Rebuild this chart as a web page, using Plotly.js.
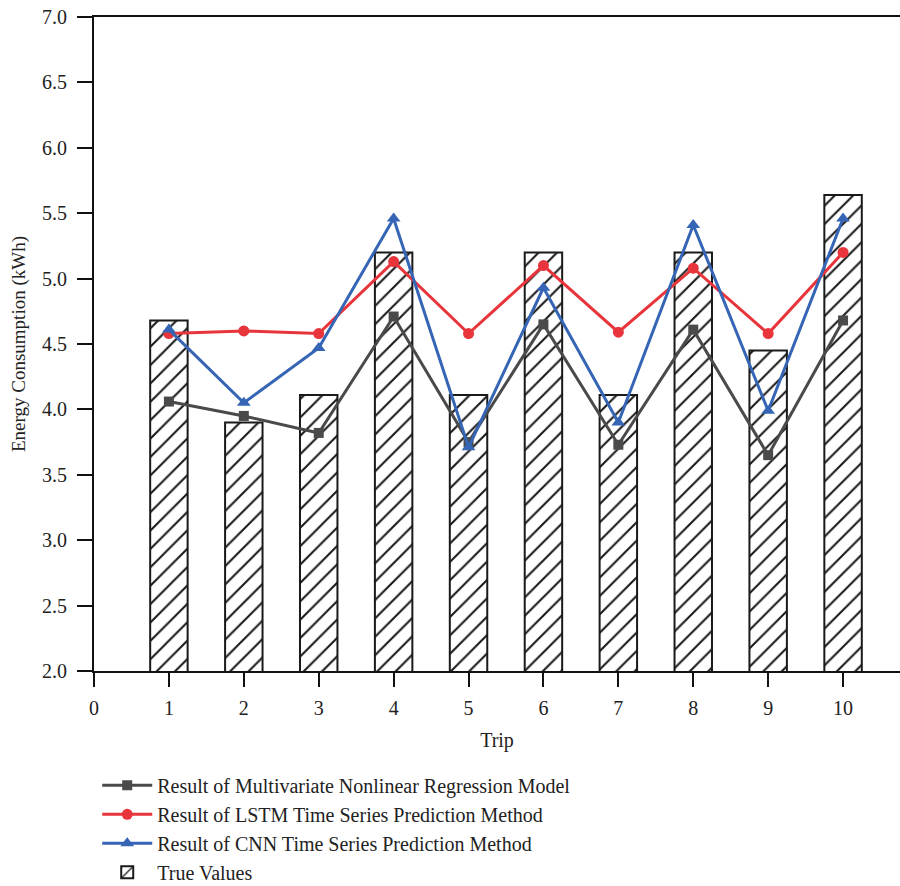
<!DOCTYPE html>
<html>
<head>
<meta charset="utf-8">
<script src="https://cdn.plot.ly/plotly-3.0.1.min.js"></script>
<style>html,body{margin:0;padding:0;background:#fff;}#chart{width:900px;height:886px;}</style>
</head>
<body>
<div id="chart"></div>
<script>
const trips = [1, 2, 3, 4, 5, 6, 7, 8, 9, 10];
const trueValues = [4.68, 3.90, 4.11, 5.20, 4.11, 5.20, 4.11, 5.20, 4.45, 5.64];
const mnrValues = [4.06, 3.95, 3.82, 4.71, 3.75, 4.65, 3.73, 4.61, 3.65, 4.68];
const lstmValues = [4.58, 4.60, 4.58, 5.13, 4.58, 5.10, 4.59, 5.08, 4.58, 5.20];
const cnnValues = [4.61, 4.05, 4.47, 5.46, 3.71, 4.93, 3.90, 5.41, 3.99, 5.46];
const xTicks = [0, 1, 2, 3, 4, 5, 6, 7, 8, 9, 10];
const yTicks = [2.0, 2.5, 3.0, 3.5, 4.0, 4.5, 5.0, 5.5, 6.0, 6.5, 7.0];

const font = "Liberation Serif, DejaVu Serif, serif";

const traces = [
  {
    x: trips, y: mnrValues, type: 'scatter', mode: 'lines+markers',
    name: 'Result of Multivariate Nonlinear Regression Model',
    line: {color: '#4a4a4a', width: 3},
    marker: {symbol: 'square', size: 10, color: '#4a4a4a'}
  },
  {
    x: trips, y: lstmValues, type: 'scatter', mode: 'lines+markers',
    name: 'Result of LSTM Time Series Prediction Method',
    line: {color: '#e8353c', width: 3},
    marker: {symbol: 'circle', size: 11, color: '#e8353c'}
  },
  {
    x: trips, y: cnnValues, type: 'scatter', mode: 'lines+markers',
    name: 'Result of CNN Time Series Prediction Method',
    line: {color: '#3565b4', width: 3},
    marker: {symbol: 'triangle-up', size: 12, color: '#3565b4'}
  },
  {
    x: trips, y: trueValues, type: 'bar', width: 0.5,
    name: 'True Values',
    base: 0,
    marker: {
      color: 'white',
      line: {color: '#1a1a1a', width: 2},
      pattern: {shape: '/', fgcolor: '#1a1a1a', bgcolor: 'white', size: 13, solidity: 0.16}
    }
  }
];

const layout = {
  width: 900, height: 886,
  margin: {l: 94, r: 0, t: 17, b: 215, autoexpand: false},
  paper_bgcolor: 'white', plot_bgcolor: 'white',
  font: {family: font, color: '#222', size: 20},
  showlegend: true,
  legend: {
    x: 0.004, xanchor: 'left', y: -0.145, yanchor: 'top',
    traceorder: 'normal', font: {family: font, size: 20, color: '#222'},
    bgcolor: 'rgba(0,0,0,0)', itemwidth: 50, tracegroupgap: 0
  },
  xaxis: {
    range: [0, 10.76], tickvals: xTicks, ticktext: xTicks.map(String),
    showgrid: false, zeroline: false,
    showline: true, linecolor: '#111', linewidth: 2, mirror: true,
    ticks: 'outside', ticklen: 14, tickwidth: 2, tickcolor: '#111',
    ticklabelstandoff: 4,
    tickfont: {family: font, size: 20, color: '#222'},
    title: {text: 'Trip', font: {family: font, size: 20, color: '#222'}, standoff: 15}
  },
  yaxis: {
    range: [2.0, 7.0], tickvals: yTicks, ticktext: yTicks.map(v => v.toFixed(1)),
    showgrid: false, zeroline: false,
    showline: true, linecolor: '#111', linewidth: 2, mirror: false,
    ticks: 'outside', ticklen: 15, tickwidth: 2, tickcolor: '#111',
    ticklabelstandoff: 6,
    tickfont: {family: font, size: 20, color: '#222'},
    title: {text: 'Energy Consumption (kWh)', font: {family: font, size: 19, color: '#222'}, standoff: 11}
  }
};

Plotly.newPlot('chart', traces, layout, {displayModeBar: false, staticPlot: true});
</script>
</body>
</html>
